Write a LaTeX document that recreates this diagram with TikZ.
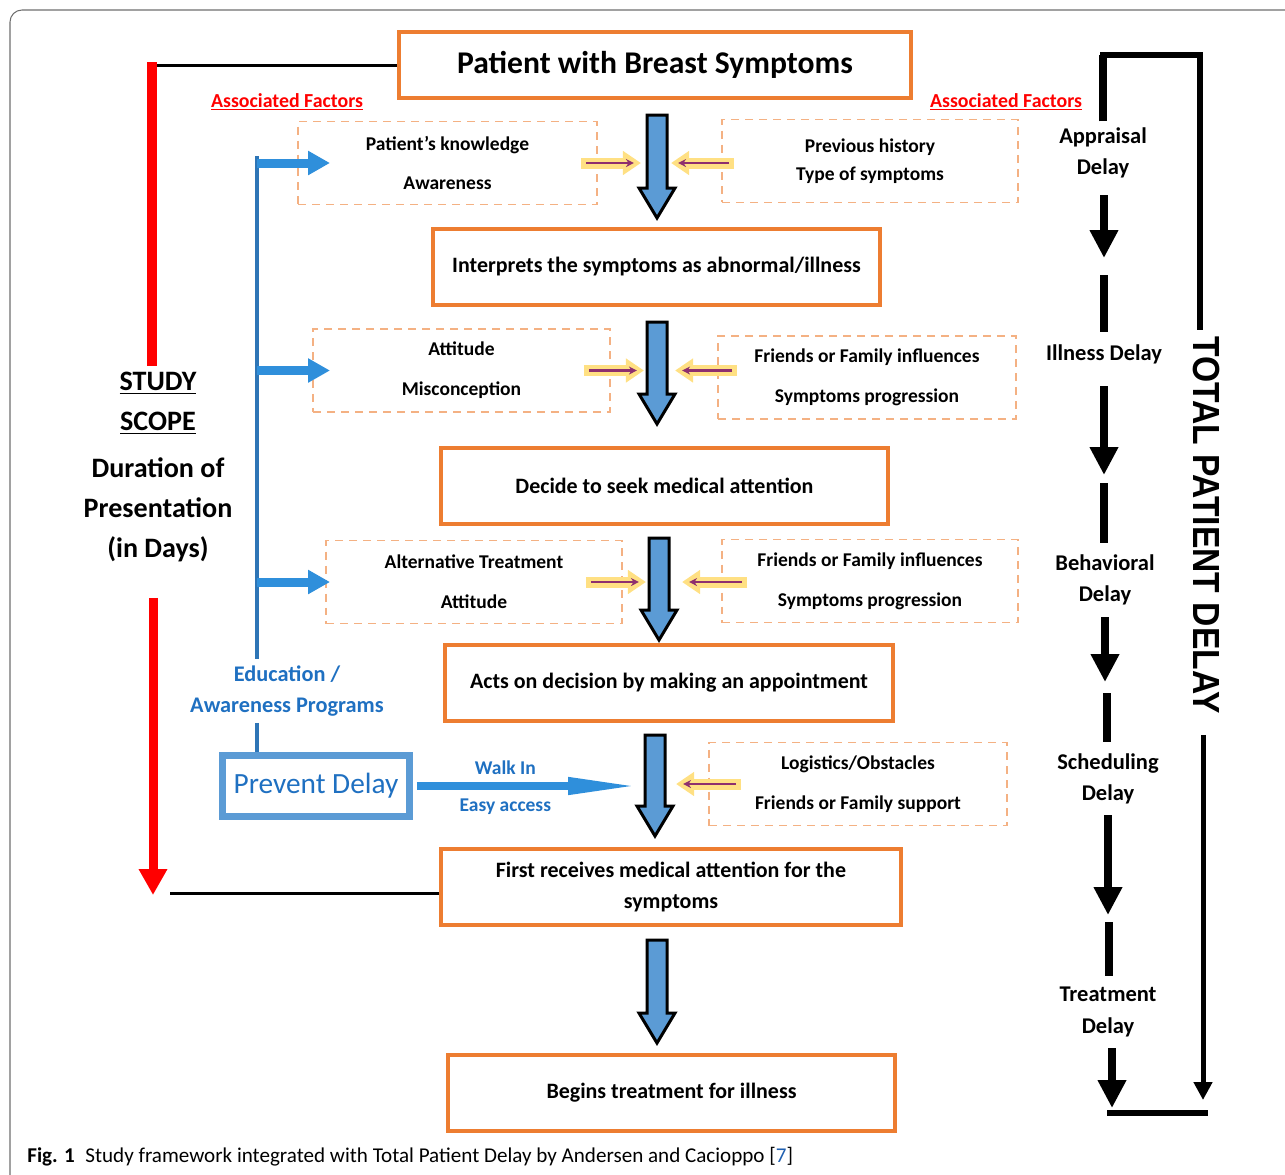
\documentclass[tikz,border=0pt]{standalone}
\usepackage{fontspec}
\setmainfont{Carlito}
\newfontfamily\arialfont{Liberation Sans}
\usetikzlibrary{positioning, calc, arrows.meta}

\definecolor{boxorange}{HTML}{ED7D31}
\definecolor{dashorange}{HTML}{F4B183}
\definecolor{flowblue}{HTML}{5B9BD5}
\definecolor{edublue}{HTML}{2E75B6}
\definecolor{edutext}{HTML}{1F70C1}
\definecolor{branchblue}{HTML}{2F8FDB}
\definecolor{glowyellow}{HTML}{FFE083}
\definecolor{plum}{HTML}{8E2F6E}
\definecolor{framegray}{HTML}{6E6E6E}
\definecolor{capblue}{HTML}{1F5FB0}

\begin{document}
\begin{tikzpicture}[x=0.02cm, y=-0.02cm,
    stage/.style={draw=boxorange, line width=0.08cm, fill=white,
      align=center, inner sep=0pt, minimum height=1.52cm,
      font=\bfseries\fontsize{12.5}{18}\selectfont},
    factor/.style={draw=dashorange, line width=1.1pt,
      dash pattern=on 0.16cm off 0.12cm, align=center, inner sep=0pt,
      minimum height=1.66cm, font=\bfseries\fontsize{11.1}{22.7}\selectfont},
    factortitle/.style={text=red, font=\bfseries\fontsize{11.3}{12}\selectfont},
    glowarrow/.style={draw=glowyellow, line width=0.22cm,
      -{Triangle[length=0.36cm, width=0.46cm]}},
    plumarrow/.style={draw=plum, line width=0.05cm,
      -{Stealth[length=0.16cm, width=0.16cm]},
      shorten <=0.1cm, shorten >=0.14cm},
    edutxt/.style={text=edutext, align=center,
      font=\bfseries\fontsize{12.7}{18}\selectfont},
    eduline/.style={draw=edublue, line width=0.08cm},
    edubranch/.style={draw=branchblue, line width=0.18cm,
      -{Triangle[length=0.44cm, width=0.46cm]}},
    prevent/.style={draw=flowblue, line width=0.12cm, text=edutext,
      minimum width=3.76cm, minimum height=1.24cm,
      font=\fontsize{16.7}{18}\selectfont},
    walkarrow/.style={draw=branchblue, line width=0.15cm,
      -{Triangle[length=1.4cm, width=0.32cm]}},
    walktext/.style={text=edutext, font=\bfseries\fontsize{11.1}{12}\selectfont},
    scopetext/.style={align=center, font=\bfseries\fontsize{16}{22.7}\selectfont},
    scopeline/.style={draw=red, line width=0.19cm},
    scopearrow/.style={draw=red, line width=0.18cm,
      -{Triangle[length=0.52cm, width=0.54cm]}},
    blackline/.style={draw=black, line width=0.06cm},
    delaytext/.style={align=center, font=\bfseries\fontsize{12.8}{18}\selectfont},
    delayline/.style={draw=black, line width=0.16cm},
    delayarrow/.style={draw=black, line width=0.16cm,
      -{Triangle[length=0.56cm, width=0.54cm]}},
    totalline/.style={draw=black, line width=0.11cm},
    totalarrow/.style={draw=black, line width=0.1cm,
      -{Triangle[length=0.36cm, width=0.36cm]}},
    pics/downflow/.style={code={
      \draw[black, line width=0.06cm, fill=flowblue, line join=miter]
        (-10,0) -- (10,0) -- (10,{#1-30}) -- (18,{#1-30}) -- (0,#1)
        -- (-18,{#1-30}) -- (-10,{#1-30}) -- cycle;}}]
  \useasboundingbox (0,0) rectangle (1285,1174);

  % FRAME
  \draw[framegray, line width=0.6pt, rounded corners=0.24cm]
    (1300,10) -- (10,10) -- (10,1200);

  % STAGES
  \node[stage, minimum width=10.24cm, minimum height=1.32cm,
    font=\bfseries\fontsize{18}{20}\selectfont] (patient) at (655,65)
    {Patient with Breast Symptoms};
  \node[stage, minimum width=8.94cm] (interpret) at (656.5,267)
    {Interprets the symptoms as abnormal/illness};
  \node[stage, minimum width=8.94cm] (decide) at (664.5,486)
    {Decide to seek medical attention};
  \node[stage, minimum width=8.96cm] (acts) at (669,683)
    {Acts on decision by making an appointment};
  \node[stage, minimum width=9.2cm] (receives) at (671,887)
    {First receives medical attention for the\\symptoms};
  \node[stage, minimum width=8.94cm] (treatment) at (671.5,1093)
    {Begins treatment for illness};

  % FLOW ARROWS
  \foreach \xa/\ya/\len in {657/115/103, 657/322/102, 659/538/102,
                            655/735/101, 657/940/103}
    \pic at (\xa,\ya) {downflow=\len};

  % ASSOCIATED FACTORS
  \node[factortitle] (leftfactors) at (287,102) {\underline{Associated Factors}};
  \node[factortitle] (rightfactors) at (1006,102) {\underline{Associated Factors}};

  \node[factor, minimum width=5.98cm] (knowledge) at (447.5,163)
    {Patient's knowledge\\Awareness};
  \node[factor, minimum width=5.92cm,
    font=\bfseries\fontsize{11.1}{15.9}\selectfont] (history) at (870,161)
    {Previous history\\Type of symptoms};
  \node[factor, minimum width=5.94cm] (attitude) at (461.5,370.5)
    {Attitude\\Misconception};
  \node[factor, minimum width=5.96cm] (influences) at (867,377.5)
    {Friends or Family influences\\Symptoms progression};
  \node[factor, minimum width=5.92cm] (alternative) at (474,582)
    {Alternative Treatment\\Attitude};
  \node[factor, minimum width=5.92cm] (influencestwo) at (870,581)
    {Friends or Family influences\\Symptoms progression};
  \node[factor, minimum width=5.96cm] (logistics) at (858,784)
    {Logistics/Obstacles\\Friends or Family support};

  % FACTOR ARROWS
  \foreach \f/\dx in {knowledge/-17, attitude/-27, alternative/-37} {
    \draw[glowarrow] ($(\f.east)+(\dx,0)$) -- ++(60,0);
    \draw[plumarrow] ($(\f.east)+(\dx,0)$) -- ++(60,0);
  }
  \foreach \f/\g/\dx/\len in {history/knowledge/13/-63,
      influences/attitude/20/-62, influencestwo/alternative/26/-65,
      logistics/logistics/33/-65} {
    \draw[glowarrow] ($(\f.west |- \g.east)+(\dx,0)$) -- ++(\len,0);
    \draw[plumarrow] ($(\f.west |- \g.east)+(\dx,0)$) -- ++(\len,0);
  }

  % EDUCATION / PREVENT DELAY
  \coordinate (edutop) at (257,156);
  \node[edutxt] (edu) at (287,691) {Education /\\Awareness Programs};
  \node[prevent] (prevent) at (316,786) {Prevent Delay};
  \draw[flowblue, line width=0.04cm]
    ($(prevent.north west)+(6,6)$) rectangle ($(prevent.south east)+(-6,-6)$);

  \draw[eduline] (edutop) -- (edu.north -| edutop);
  \draw[eduline] (edu.south -| edutop) -- (prevent.north -| edutop);
  \foreach \f in {knowledge, attitude, alternative}
    \draw[edubranch] (edutop |- \f.west) -- ++(73,0);

  \coordinate (walkend) at (638,785);
  \draw[walkarrow] (prevent.east) ++(4,0) -- (prevent.east -| walkend)
    node[pos=0.4, above=1pt, walktext] {Walk In}
    node[pos=0.4, below=2pt, walktext] {Easy access};

  % STUDY SCOPE
  \coordinate (scopetop) at (152,62);
  \coordinate (scopeend) at (153,895);
  \node[scopetext] (scope) at (158,467)
    {\underline{STUDY}\\\underline{SCOPE}\\[4pt]Duration of\\Presentation\\(in Days)};
  \draw[blackline] (patient.west) -- (patient.west -| scopetop);
  \draw[scopeline] (scopetop) -- (scope.north -| scopetop);
  \draw[scopearrow, shorten <=0.6cm] (scope.south -| scopeend) -- (scopeend);
  \draw[blackline] ($(receives.west)+(0,6)$) -- ++(-269,0);

  % DELAYS
  \node[delaytext] (appraisal) at (1103,153) {Appraisal\\Delay};
  \node[delaytext] (illness) at (1104,354) {Illness Delay};
  \node[delaytext] (behavioral) at (1105,580) {Behavioral\\Delay};
  \node[delaytext] (scheduling) at (1108,779) {Scheduling\\Delay};
  \node[delaytext] (treatdelay) at (1108,1012) {Treatment\\Delay};

  \foreach \xa/\ya/\yb in {1104/195/258, 1104/386/475, 1105/617/682,
                           1108/815/915, 1112/1048/1108}
    \draw[delayarrow] (\xa,\ya) -- (\xa,\yb);
  \foreach \xa/\ya/\yb in {1104/275/332, 1104/483/543, 1107/693/742,
                           1109/922/976}
    \draw[delayline] (\xa,\ya) -- (\xa,\yb);

  % TOTAL PATIENT DELAY
  \coordinate (totaltop) at (1200,55);
  \coordinate (totalend) at (1203,1100);
  \node[rotate=-90, font=\arialfont\bfseries\fontsize{21.5}{24}\selectfont] (total)
    at (1206,525) {\scalebox{0.89}[1]{TOTAL PATIENT DELAY}};
  \draw[delayline] (appraisal.north) -- (appraisal.north |- totaltop);
  \draw[totalline] ($(appraisal.north |- totaltop)+(-3,0)$) -- (totaltop)
    -- (total.west -| totaltop);
  \draw[totalarrow, shorten <=0.3cm] (total.east -| totalend) -- (totalend);
  \draw[totalline] (1107,1113) -- (1208,1113);

  % CAPTION
  \node[anchor=west, inner sep=0pt, font=\fontsize{12}{14}\selectfont]
    (caption) at (27,1157) {\textbf{Fig. 1}\hspace{0.5em}Study framework
    integrated with Total Patient Delay by Andersen and Cacioppo
    [\textcolor{capblue}{7}]};
\end{tikzpicture}
\end{document}
